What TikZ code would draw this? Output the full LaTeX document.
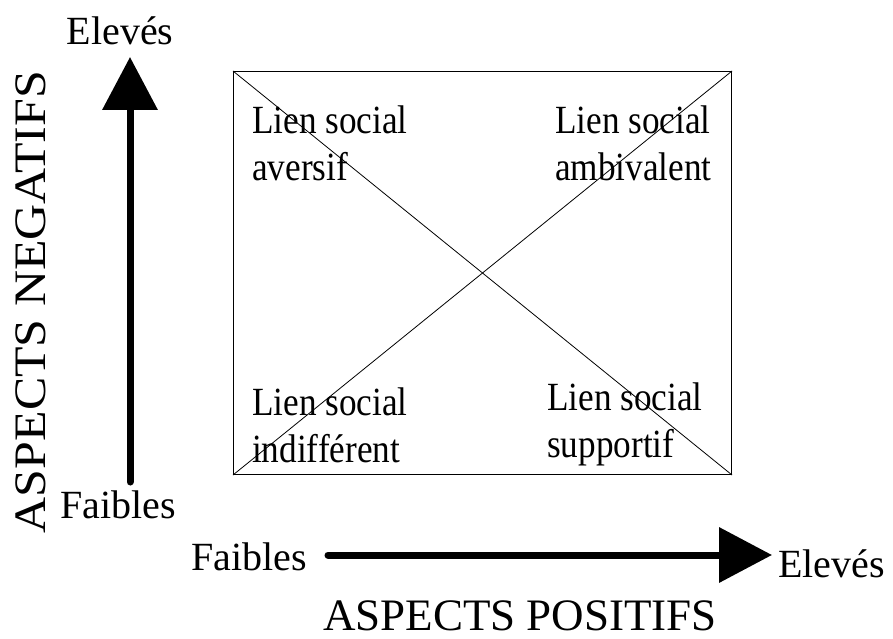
\documentclass[tikz,border=0pt]{standalone}
\usepackage{fontspec}
\setmainfont{Liberation Serif}
\usepackage{graphicx}
\usetikzlibrary{arrows.meta}
\begin{document}
\begin{tikzpicture}[x=1pt,y=-1pt,
  lbl/.style={inner sep=0pt,font=\fontsize{40}{47}\selectfont},
  title/.style={inner sep=0pt,font=\fontsize{45}{50}\selectfont},
  quad/.style={inner sep=0pt,align=left,font=\fontsize{40}{47}\selectfont},
  axisarrow/.style={line width=7pt,line cap=round,-{Triangle[width=54pt,length=53pt]}},
  frame/.style={draw,line width=1pt},
  diag/.style={line width=0.8pt}]
\useasboundingbox (0,0) rectangle (893,639);
% box
\node[frame,minimum width=498pt,minimum height=403pt,inner sep=0pt,anchor=north west] (box) at (233,71) {};
\draw[diag] (box.north west) -- (box.south east);
\draw[diag] (box.south west) -- (box.north east);
% quadrant texts (base anchor = baseline of the last line)
\node[quad,anchor=base west] (tl) at (252,180) {\scalebox{0.88}[1]{Lien social}\\\scalebox{0.88}[1]{aversif}};
\node[quad,anchor=base west] (tr) at (555,180) {\scalebox{0.88}[1]{Lien social}\\\scalebox{0.88}[1]{ambivalent}};
\node[quad,anchor=base west] (bl) at (252,462) {\scalebox{0.88}[1]{Lien social}\\\scalebox{0.88}[1]{indifférent}};
\node[quad,anchor=base west] (br) at (547,457) {\scalebox{0.88}[1]{Lien social}\\\scalebox{0.88}[1]{supportif}};
% axes
\coordinate (vstart) at (130,482);
\coordinate (vend) at (130,57);
\draw[axisarrow] (vstart) -- (vend);
\coordinate (hstart) at (328,555);
\coordinate (hend) at (772,555);
\draw[axisarrow] (hstart) -- (hend);
% labels
\node[lbl,anchor=base] (ytop) at (120,45) {Elevés};
\node[lbl,anchor=base west] (ybot) at (60,518) {Faibles};
\node[lbl,anchor=base west] (xleft) at (191,570) {Faibles};
\node[lbl,anchor=base west] (xright) at (778,577) {Elevés};
\node[title,anchor=base] (xtitle) at (520,630) {ASPECTS POSITIFS};
\node[title,anchor=base,rotate=90] (ytitle) at (45,302) {\scalebox{1.11}[1]{ASPECTS NEGATIFS}};
\end{tikzpicture}
\end{document}
